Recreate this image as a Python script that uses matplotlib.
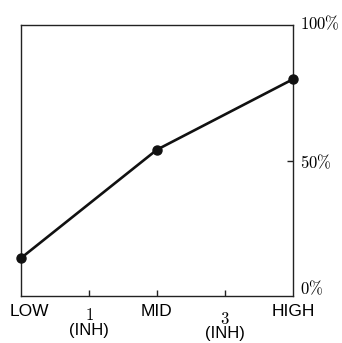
import matplotlib
matplotlib.use("Agg")
import matplotlib.pyplot as plt

plt.rcParams['mathtext.fontset'] = 'cm'

# data
x_pos = [0, 2, 4]
values = [14, 54, 80]
main_labels = ["LOW", "MID", "HIGH"]
inh_ticks = [1, 3]
inh_labels = ["1", "3"]
y_ticks = [0, 50, 100]
y_labels = ["0\\%", "50\\%", "100\\%"]

fig = plt.figure(figsize=(3.42, 3.43), dpi=100)
ax = fig.add_axes([21 / 342, 47 / 343, 272 / 342, 271 / 343])

ax.plot(x_pos, values, color="#111111", lw=1.9, marker="o", ms=6.5,
        clip_on=False, zorder=5)

ax.set_xlim(0, 4)
ax.set_ylim(0, 100)
for s in ax.spines.values():
    s.set_linewidth(1.0)
    s.set_color("#222222")

ax.set_xticks([1, 2, 3])
ax.set_xticklabels([])
ax.tick_params(axis="x", direction="in", length=4, width=1.0, color="#222222")
ax.set_yticks([50])
ax.set_yticklabels([])
ax.tick_params(axis="y", left=False, right=True, direction="in",
               length=4, width=1.0, color="#222222")

sans = "Liberation Sans"
# bottom labels
for xp, lab in zip(x_pos, main_labels):
    dx = 0.12 if xp == 0 else 0
    ax.text(xp + dx, -2.8, lab, ha="center", va="top", fontsize=12.5,
            family=sans, clip_on=False)
for xp, lab, dy in zip(inh_ticks, inh_labels, [0, 1.2]):
    ax.text(xp, -3.8 - dy, "$" + lab + "$", ha="center", va="top",
            fontsize=12, clip_on=False)
    ax.text(xp, -10.0 - dy, "(INH)", ha="center", va="top", fontsize=12,
            family=sans, clip_on=False)

# right percentage labels
for yv, lab in zip(y_ticks, y_labels):
    off = 2.5 if yv == 0 else (-1 if yv == 50 else 0.5)
    ax.text(4.1, yv + off, "$" + lab + "$", ha="left", va="center",
            fontsize=12, clip_on=False)

fig.savefig("out.png", dpi=100)
